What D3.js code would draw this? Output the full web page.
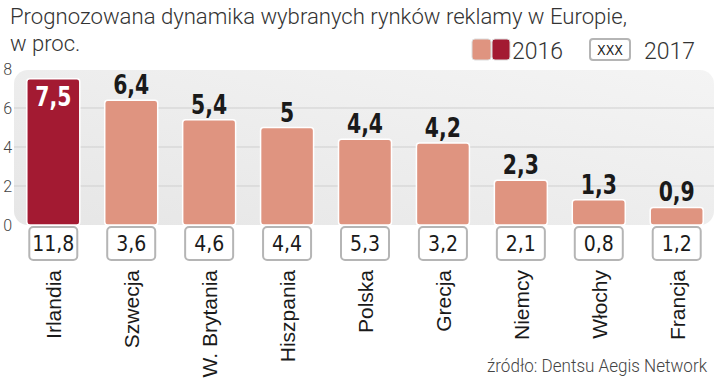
<!DOCTYPE html>
<html>
<head>
<meta charset="utf-8">
<script src="https://cdn.jsdelivr.net/npm/d3@7"></script>
<style>
  body { margin: 0; background: #fff; }
  svg { display: block; }
</style>
</head>
<body>
<svg id="chart"></svg>
<script>
// data
const countries = ["Irlandia", "Szwecja", "W. Brytania", "Hiszpania", "Polska", "Grecja", "Niemcy", "Włochy", "Francja"];
const values2016 = [7.5, 6.4, 5.4, 5, 4.4, 4.2, 2.3, 1.3, 0.9];
const values2017 = [11.8, 3.6, 4.6, 4.4, 5.3, 3.2, 2.1, 0.8, 1.2];
const yTicks = [0, 2, 4, 6, 8];

const W = 720, H = 380;
const narrow = "'DejaVu Sans Condensed', 'DejaVu Sans', sans-serif";
const light = "Roboto, sans-serif";
const fmt = d => String(d).replace('.', ',');

const svg = d3.select('#chart').attr('width', W).attr('height', H);

// scales
const x = d3.scaleBand()
    .domain(countries)
    .range([19, 711])
    .paddingInner(0.32)
    .paddingOuter(0.1);

const y = d3.scaleLinear()
    .domain([0, 8])
    .range([225, 69]);

// panel background
const defs = svg.append('defs');
const grad = defs.append('linearGradient')
    .attr('id', 'panel')
    .attr('x1', 0).attr('y1', 1).attr('x2', 1).attr('y2', 0);
grad.append('stop').attr('offset', '0%').attr('stop-color', '#e6e6e6');
grad.append('stop').attr('offset', '100%').attr('stop-color', '#f4f4f4');

svg.append('rect')
    .attr('x', 14).attr('y', y(8) + 1)
    .attr('width', 700).attr('height', y(0) - y(8) - 1)
    .attr('rx', 14)
    .style('fill', 'url(#panel)');

// gridlines
svg.append('g')
    .selectAll('line')
    .data(yTicks.filter(t => t > 0 && t < 8))
    .join('line')
    .attr('x1', 14).attr('x2', 714)
    .attr('y1', d => y(d)).attr('y2', d => y(d))
    .style('stroke', '#cfcfcf')
    .style('stroke-width', 1);

// y axis
const yAxis = d3.axisLeft(y).tickValues(yTicks).tickSize(0).tickPadding(0);
const yg = svg.append('g')
    .attr('transform', 'translate(12,0)')
    .call(yAxis);
yg.select('.domain').remove();
yg.selectAll('text')
    .attr('dy', '0.35em')
    .style('font-family', light)
    .style('font-weight', 300)
    .style('font-size', '16px')
    .style('fill', '#444');

// bars
svg.append('g')
    .selectAll('rect')
    .data(values2016)
    .join('rect')
    .attr('x', (d, i) => x(countries[i]))
    .attr('y', d => y(d))
    .attr('width', x.bandwidth())
    .attr('height', d => y(0) - y(d))
    .attr('rx', 3)
    .style('fill', (d, i) => i === 0 ? '#a31a32' : '#df9480')
    .style('stroke', '#fff')
    .style('stroke-width', 1.5);

// bar labels 2016 (condensed bold)
svg.append('g')
    .selectAll('text')
    .data(values2016)
    .join('text')
    .attr('transform', (d, i) => {
        const cx = x(countries[i]) + x.bandwidth() / 2;
        const ty = i === 0 ? y(d) + 27 : y(d) - 6;
        return `translate(${cx},${ty}) scale(0.84,1)`;
    })
    .attr('text-anchor', 'middle')
    .text(d => fmt(d))
    .style('font-family', narrow)
    .style('font-weight', 'bold')
    .style('font-size', '27px')
    .style('fill', (d, i) => i === 0 ? '#fff' : '#1a1a1a');

// 2017 boxes
const boxes = svg.append('g')
    .selectAll('g')
    .data(values2017)
    .join('g')
    .attr('transform', (d, i) => `translate(${x(countries[i]) + x.bandwidth() / 2},0)`);

boxes.append('rect')
    .attr('x', -24).attr('y', 227)
    .attr('width', 48).attr('height', 33)
    .attr('rx', 4)
    .style('fill', '#fff')
    .style('stroke', '#b5b5b5')
    .style('stroke-width', 2);

boxes.append('text')
    .attr('y', 251)
    .attr('text-anchor', 'middle')
    .text(d => fmt(d))
    .style('font-family', narrow)
    .style('font-size', '21px')
    .style('fill', '#1a1a1a');

// category labels
svg.append('g')
    .selectAll('text')
    .data(countries)
    .join('text')
    .attr('transform', d => `translate(${x(d) + x.bandwidth() / 2 + 8},270) rotate(-90)`)
    .attr('text-anchor', 'end')
    .text(d => d)
    .style('font-family', "'Liberation Sans', Arial, sans-serif")
    .style('font-size', '21px')
    .style('fill', '#1a1a1a');

// title
svg.append('text')
    .attr('x', 10).attr('y', 24)
    .attr('textLength', 617)
    .attr('lengthAdjust', 'spacingAndGlyphs')
    .text('Prognozowana dynamika wybranych rynków  reklamy w Europie,')
    .style('font-family', light)
    .style('font-weight', 300)
    .style('font-size', '22px')
    .style('fill', '#333');

svg.append('text')
    .attr('x', 10).attr('y', 51)
    .text('w proc.')
    .style('font-family', light)
    .style('font-weight', 300)
    .style('font-size', '22px')
    .style('fill', '#333');

// legend
const lg = svg.append('g');
lg.append('rect')
    .attr('x', 472).attr('y', 39).attr('width', 19).attr('height', 21).attr('rx', 3)
    .style('fill', '#df9480').style('stroke', '#ddd').style('stroke-width', 1);
lg.append('rect')
    .attr('x', 492).attr('y', 39).attr('width', 18).attr('height', 21).attr('rx', 3)
    .style('fill', '#a31a32').style('stroke', '#ddd').style('stroke-width', 1);
lg.append('text')
    .attr('x', 512).attr('y', 59)
    .text('2016')
    .style('font-family', light).style('font-weight', 300)
    .style('font-size', '23px').style('fill', '#333');
lg.append('rect')
    .attr('x', 590).attr('y', 39).attr('width', 40).attr('height', 21).attr('rx', 3)
    .style('fill', '#fff').style('stroke', '#b5b5b5').style('stroke-width', 2);
lg.append('text')
    .attr('x', 610).attr('y', 55)
    .attr('text-anchor', 'middle')
    .text('XXX')
    .style('font-family', narrow)
    .style('font-size', '14px').style('fill', '#222');
lg.append('text')
    .attr('x', 644).attr('y', 59)
    .text('2017')
    .style('font-family', light).style('font-weight', 300)
    .style('font-size', '23px').style('fill', '#333');

// source
svg.append('text')
    .attr('x', 707).attr('y', 372)
    .attr('text-anchor', 'end')
    .attr('textLength', 220)
    .attr('lengthAdjust', 'spacingAndGlyphs')
    .text('źródło: Dentsu Aegis Network')
    .style('font-family', light)
    .style('font-weight', 300)
    .style('font-size', '18px')
    .style('fill', '#444');
</script>
</body>
</html>
